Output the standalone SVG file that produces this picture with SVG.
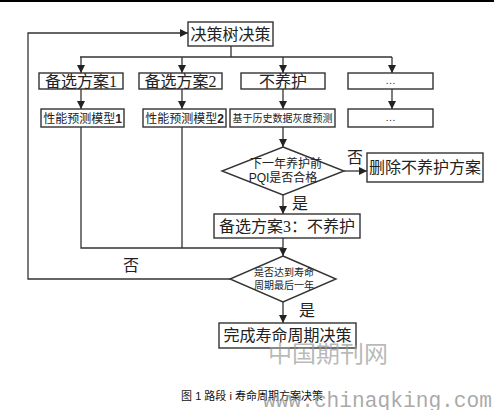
<svg xmlns="http://www.w3.org/2000/svg" width="494" height="410" viewBox="0 0 494 410">
<style>
.box{fill:#fff;stroke:#333;stroke-width:1.4}
.ln{fill:none;stroke:#333;stroke-width:1.3}
.t{font-family:"Liberation Serif","Noto Sans CJK SC",serif;fill:#222;text-anchor:middle}
.s16{font-size:16px}
.s12{font-size:12px}
.s10{font-size:10px}
.sans{font-family:"Liberation Sans","Noto Sans CJK SC",sans-serif}
.wm{font-family:"Liberation Mono","Noto Sans CJK SC",monospace;fill:#9a9a9a}
.cap{font-family:"Liberation Sans","Noto Sans CJK SC",sans-serif;font-size:11px;fill:#111;text-anchor:middle}
</style>
<defs>
<marker id="ah" viewBox="0 0 10 10" refX="10" refY="5" markerWidth="8" markerHeight="8" markerUnits="userSpaceOnUse" orient="auto">
<path d="M0,0 L10,5 L0,10 z" fill="#222"/>
</marker>
</defs>
<rect x="0" y="0" width="494" height="2" fill="#000"/>
<g id="connectors">
<path class="ln" d="M231,46 V57 M80,57 H392"/>
<path class="ln" d="M81,57 V73" marker-end="url(#ah)"/>
<path class="ln" d="M182,57 V73" marker-end="url(#ah)"/>
<path class="ln" d="M283,57 V73" marker-end="url(#ah)"/>
<path class="ln" d="M392,57 V73" marker-end="url(#ah)"/>
<path class="ln" d="M81,89 V109" marker-end="url(#ah)"/>
<path class="ln" d="M182,89 V109" marker-end="url(#ah)"/>
<path class="ln" d="M283,89 V109" marker-end="url(#ah)"/>
<path class="ln" d="M392,89 V109" marker-end="url(#ah)"/>
<path class="ln" d="M283,127 V147" marker-end="url(#ah)"/>
<path class="ln" d="M344,171 H367" marker-end="url(#ah)"/>
<path class="ln" d="M283,195 V214" marker-end="url(#ah)"/>
<path class="ln" d="M283,238 V256" marker-end="url(#ah)"/>
<path class="ln" d="M81,127 V248 H283 M182,127 V248"/>
<path class="ln" d="M230,279 H28 V33 H188" marker-end="url(#ah)"/>
<path class="ln" d="M283,302 V323" marker-end="url(#ah)"/>
<text class="t s16" x="355" y="163">否</text>
<text class="t s16" x="300" y="209">是</text>
<text class="t s16" x="131" y="271">否</text>
<text class="t s16" x="307" y="316">是</text>
</g>
<g id="n-root"><rect class="box" x="188" y="22" width="85" height="24"/><text class="t s16" x="230.5" y="40">决策树决策</text></g>
<g id="n-a1"><rect class="box" x="39" y="73" width="84" height="16"/><text class="t s16" x="81" y="87">备选方案1</text></g>
<g id="n-a2"><rect class="box" x="139" y="73" width="83" height="16"/><text class="t s16" x="180.5" y="87">备选方案2</text></g>
<g id="n-a3"><rect class="box" x="241" y="73" width="84" height="16"/><text class="t s16" x="283" y="87">不养护</text></g>
<g id="n-a4"><rect class="box" x="348" y="73" width="85" height="16"/><text class="t s10" x="390.5" y="84">…</text></g>
<g id="n-m1"><rect class="box" x="41" y="109" width="83" height="18"/><text class="t s12" x="82.5" y="122.5">性能预测模型<tspan class="sans" font-weight="bold">1</tspan></text></g>
<g id="n-m2"><rect class="box" x="143" y="109" width="83" height="18"/><text class="t s12" x="184.5" y="122.5">性能预测模型<tspan class="sans" font-weight="bold">2</tspan></text></g>
<g id="n-m3"><rect class="box" x="230" y="109" width="105" height="18"/><text class="t s10" x="282.5" y="121.5">基于历史数据灰度预测</text></g>
<g id="n-m4"><rect class="box" x="348" y="109" width="85" height="18"/><text class="t s10" x="390.5" y="121">…</text></g>
<g id="n-d1"><polygon class="box" points="283,147 344,171 283,195 222,171"/><text class="t s12" x="286" y="168">下一年养护前</text><text class="t s12" x="283" y="182"><tspan class="sans">PQI</tspan>是否合格</text></g>
<g id="n-del"><rect class="box" x="367" y="153" width="116" height="29"/><text class="t s16" x="425" y="173">删除不养护方案</text></g>
<g id="n-a3b"><rect class="box" x="214" y="214" width="146" height="24"/><text class="t s16" x="287" y="232">备选方案3：不养护</text></g>
<g id="n-d2"><polygon class="box" points="283,256 336,279 283,302 230,279"/><text class="t s10" x="284" y="276">是否达到寿命</text><text class="t s10" x="284" y="289">周期最后一年</text></g>
<g id="n-end"><rect class="box" x="219" y="323" width="137" height="25"/><text class="t s16" x="287.5" y="341">完成寿命周期决策</text></g>
<text class="wm" x="268" y="362" font-size="23" textLength="120" lengthAdjust="spacingAndGlyphs" fill-opacity="0.7">中国期刊网</text>
<text class="cap" x="252" y="400">图 1 路段 i 寿命周期方案决策</text>
<text class="wm" x="263" y="407" font-size="22" textLength="229" lengthAdjust="spacingAndGlyphs" fill-opacity="0.85">www.chinaqking.com</text>
</svg>
